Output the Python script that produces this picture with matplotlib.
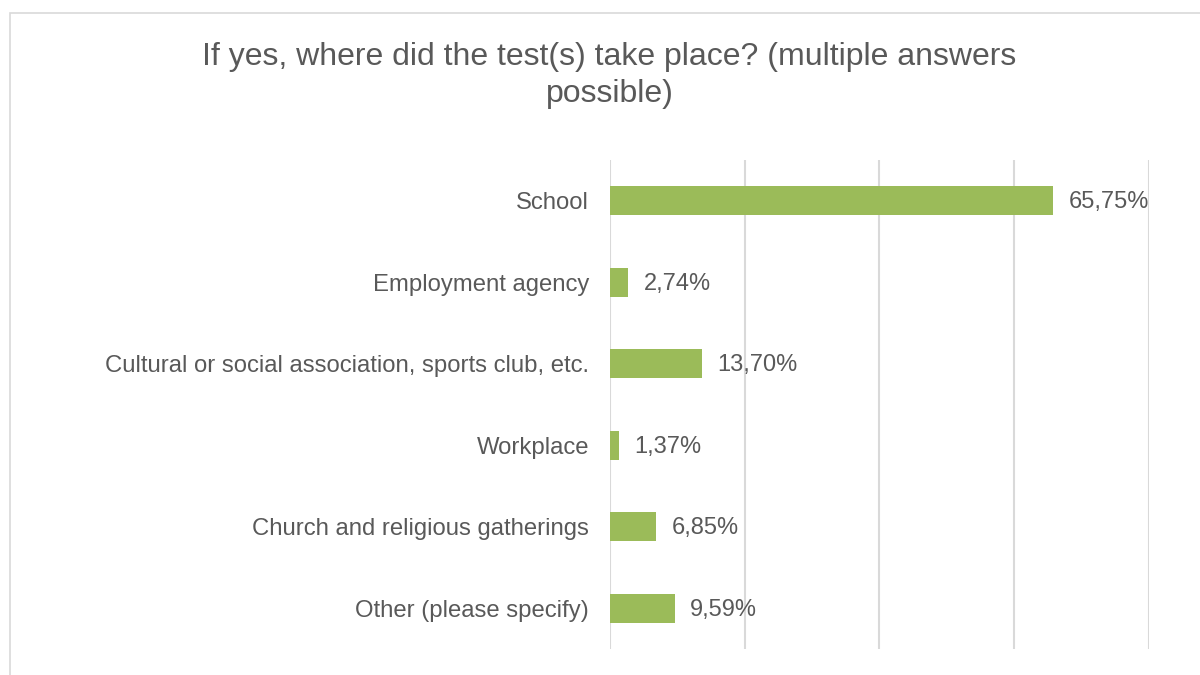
import matplotlib.pyplot as plt
from matplotlib.patches import Rectangle

# survey answers, top to bottom
categories = [
    "School",
    "Employment agency",
    "Cultural or social association, sports club, etc.",
    "Workplace",
    "Church and religious gatherings",
    "Other (please specify)",
]
shares = [0.6575, 0.0274, 0.1370, 0.0137, 0.0685, 0.0959]
value_labels = ["65,75%", "2,74%", "13,70%", "1,37%", "6,85%", "9,59%"]

plt.rcParams['font.family'] = ['Liberation Sans', 'DejaVu Sans']
text_color = '#595959'
bar_color = '#9BBB59'
grid_color = '#D9D9D9'

fig = plt.figure(figsize=(12, 6.75), dpi=100)
ax = fig.add_axes([0.5083, 0.0385, 0.4492, 0.7246])

y = list(range(len(categories)))
ax.barh(y, shares, height=0.36, color=bar_color, zorder=3)
ax.set_ylim(len(categories) - 0.5, -0.5)
ax.set_xlim(0, 0.8)

for yi, v, lab in zip(y, shares, value_labels):
    ax.annotate(lab, (v, yi), xytext=(11, -1), textcoords='offset points',
                va='center', ha='left', fontsize=17, color=text_color)

ax.set_xticks([0, 0.2, 0.4, 0.6, 0.8])
ax.grid(axis='x', color=grid_color, linewidth=1.5, zorder=0)
ax.tick_params(axis='x', length=0, labelbottom=False)
ax.set_yticks(y)
ax.set_yticklabels(categories, fontsize=17.2, color=text_color)
ax.tick_params(axis='y', length=0, pad=15)
for s in ax.spines.values():
    s.set_visible(False)

fig.text(0.508, 0.888, "If yes, where did the test(s) take place? (multiple answers\npossible)",
         ha='center', va='center', fontsize=23, color=text_color, linespacing=1.3)

# chart frame
fig.patches.append(Rectangle((10 / 1200, -0.1), 1.2, 1 - 13 / 675 + 0.1,
                             transform=fig.transFigure, fill=False,
                             edgecolor=grid_color, linewidth=1.2))

fig.savefig('out.png', dpi=100)
